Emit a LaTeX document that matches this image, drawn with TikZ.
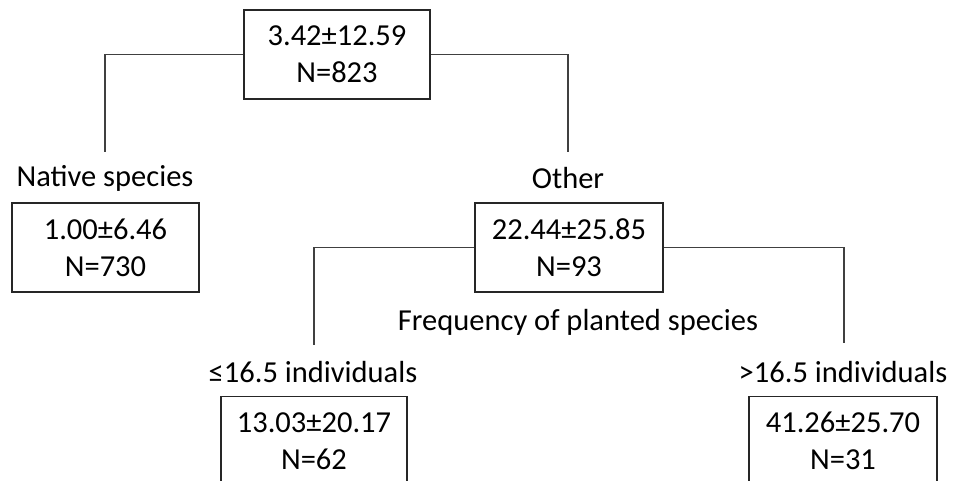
\documentclass[tikz,border=0pt]{standalone}
\usepackage{fontspec}
\setmainfont{Carlito}
\begin{document}
\begin{tikzpicture}[x=1pt,y=-1pt,
  box/.style={draw=black!85,line width=1.4pt,minimum width=#1,minimum height=89pt,inner sep=0pt,align=center,
    font=\fontsize{30.5}{37}\selectfont},
  lbl/.style={inner sep=0pt,font=\fontsize{30.5}{37}\selectfont},
  conn/.style={draw=black!75,line width=1.5pt}]
\clip (0,0) rectangle (957,481);
\fill[white] (0,0) rectangle (957,481);
\node[box=186pt] (root) at (337,54.5) {3.42±12.59\\N=823};
\node[box=187pt] (native) at (105.5,247.5) {1.00±6.46\\N=730};
\node[box=188pt] (other) at (569,247.5) {22.44±25.85\\N=93};
\node[box=186pt,anchor=north] (low) at (314,396) {13.03±20.17\\N=62};
\node[box=188pt,anchor=north] (high) at (843,396) {41.26±25.70\\N=31};
\node[lbl] (lnative) at (105,178) {Native species};
\node[lbl] (lother) at (568,178) {Other};
\node[lbl] (lfreq) at (578,322) {Frequency of planted species};
\node[lbl] (llow) at (313,372) {≤16.5 individuals};
\node[lbl] (lhigh) at (843,372) {>16.5 individuals};
\coordinate (e1) at (105,152);
\coordinate (e2) at (568,152);
\coordinate (e3) at (314,345);
\coordinate (e4) at (844,343);
\draw[conn] (root.west) -| (e1);
\draw[conn] (root.east) -| (e2);
\draw[conn] (other.west) -| (e3);
\draw[conn] (other.east) -| (e4);
\end{tikzpicture}
\end{document}
